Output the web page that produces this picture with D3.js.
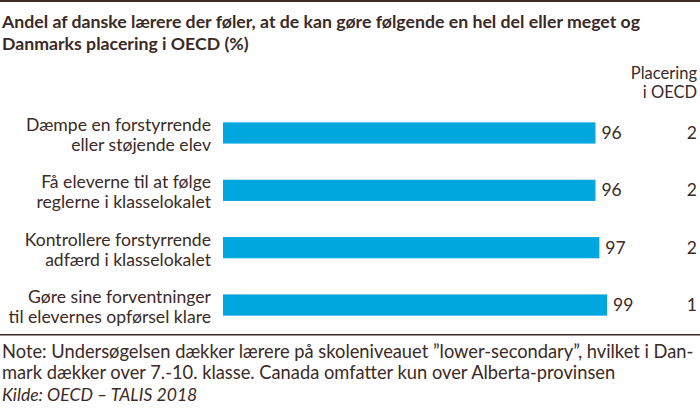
<!DOCTYPE html>
<html>
<head>
<meta charset="utf-8">
<script src="https://cdn.jsdelivr.net/npm/d3@7"></script>
<style>
  body { margin: 0; background: #fff; }
  svg { display: block; font-family: Lato, "Open Sans", sans-serif; }
</style>
</head>
<body>
<script>
var width = 700, height = 410;
var ink = '#3b2a26';

// data
var categories = [
  ['Dæmpe en forstyrrende', 'eller støjende elev'],
  ['Få eleverne til at følge', 'reglerne i klasselokalet'],
  ['Kontrollere forstyrrende', 'adfærd i klasselokalet'],
  ['Gøre sine forventninger', 'til elevernes opførsel klare']
];
var values = [96, 96, 97, 99];
var ranks = [2, 2, 2, 1];
var titleLines = ['Andel af danske lærere der føler, at de kan gøre følgende en hel del eller meget og',
                  'Danmarks placering i OECD (%)'];
var noteLines = ['Note: Undersøgelsen dækker lærere på skoleniveauet ”lower-secondary”, hvilket i Dan-',
                 'mark dækker over 7.-10. klasse. Canada omfatter kun over Alberta-provinsen'];
var source = 'Kilde: OECD – TALIS 2018';

var svg = d3.select('body').append('svg')
    .attr('width', width)
    .attr('height', height);

// top rule
svg.append('rect').attr('x', 0).attr('y', 0).attr('width', width).attr('height', 2).attr('fill', ink);

svg.selectAll('.title').data(titleLines).enter().append('text')
    .attr('x', 2)
    .attr('y', function(d, i){ return 28 + i * 22; })
    .attr('font-size', 17.7)
    .attr('font-weight', 'bold')
    .attr('fill', ink)
    .text(function(d){ return d; });

// column header
svg.append('text').attr('x', 697).attr('y', 79).attr('text-anchor', 'end')
    .attr('font-size', 16.5).attr('fill', ink).text('Placering');
svg.append('text').attr('x', 697).attr('y', 98).attr('text-anchor', 'end')
    .attr('font-size', 16.5).attr('fill', ink).text('i OECD');

var x = d3.scaleLinear().domain([0, 100]).range([223, 611]);
var y = d3.scaleBand().domain(d3.range(categories.length)).range([104, 334]).paddingInner(0.63).paddingOuter(0.32);

svg.selectAll('.bar').data(values).enter().append('rect')
    .attr('x', x(0))
    .attr('y', function(d, i){ return y(i); })
    .attr('width', function(d){ return x(d) - x(0); })
    .attr('height', y.bandwidth())
    .attr('fill', '#00a7de');

svg.selectAll('.val').data(values).enter().append('text')
    .attr('x', function(d){ return x(d) + 6; })
    .attr('y', function(d, i){ return y(i) + y.bandwidth() / 2 + 6; })
    .attr('font-size', 17.5)
    .attr('fill', ink)
    .text(function(d){ return d; });

svg.selectAll('.rank').data(ranks).enter().append('text')
    .attr('x', 697)
    .attr('text-anchor', 'end')
    .attr('y', function(d, i){ return y(i) + y.bandwidth() / 2 + 6; })
    .attr('font-size', 17.5)
    .attr('fill', ink)
    .text(function(d){ return d; });

var lab = svg.selectAll('.lab').data(categories).enter().append('text')
    .attr('text-anchor', 'end')
    .attr('font-size', 17.6)
    .attr('fill', ink);
lab.selectAll('tspan').data(function(d, i){ return d.map(function(t){ return {t: t, i: i}; }); })
  .enter().append('tspan')
    .attr('x', 211)
    .attr('y', function(d, j){ return y(d.i) + y.bandwidth() / 2 - 2 + j * 20; })
    .text(function(d){ return d.t; });

// bottom rule
svg.append('rect').attr('x', 0).attr('y', 334).attr('width', width).attr('height', 1.5).attr('fill', ink);

svg.selectAll('.note').data(noteLines).enter().append('text')
    .attr('x', 2)
    .attr('y', function(d, i){ return 358 + i * 21; })
    .attr('font-size', 18.3)
    .attr('fill', ink)
    .text(function(d){ return d; });

svg.append('text').attr('x', 2).attr('y', 401)
    .attr('font-size', 17.6).attr('font-style', 'italic').attr('fill', ink)
    .text(source);
</script>
</body>
</html>
